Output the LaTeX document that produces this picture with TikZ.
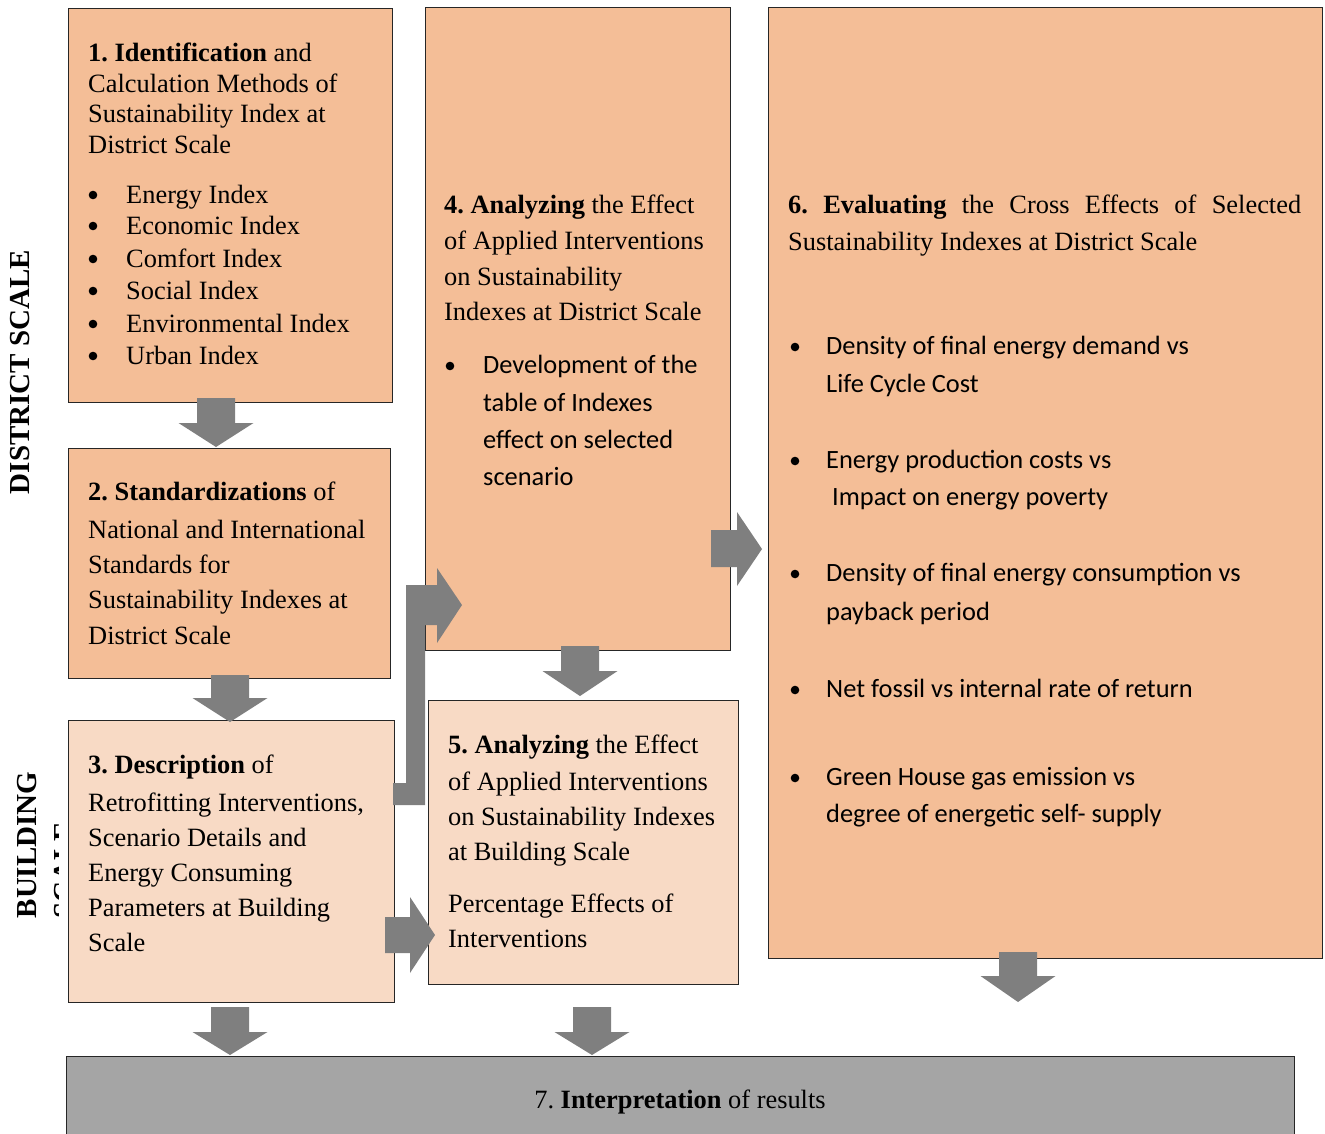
\documentclass[tikz,border=0pt]{standalone}
\usepackage{fontspec}
\setmainfont{Liberation Serif}
\newfontfamily\calfont{Carlito}
\definecolor{peach}{HTML}{F4BE97}
\definecolor{lpeach}{HTML}{F8DAC5}
\definecolor{agray}{HTML}{7F7F7F}
\definecolor{bgray}{HTML}{A5A5A5}
\begin{document}
\frenchspacing
\begin{tikzpicture}[x=1pt,y=-1pt,
  box/.style={draw=black!85, line width=0.9pt, inner sep=0, anchor=north west},
  t/.style={inner sep=0, anchor=base west, font=\fontsize{26.4}{30}\selectfont},
  c/.style={inner sep=0, anchor=base west, font=\calfont\fontsize{26.4}{30}\selectfont},
  bul/.style={fill=black, draw=none, circle, inner sep=0, minimum size=8.6pt},
  side/.style={inner sep=0, rotate=90, font=\bfseries\fontsize{29}{32}\selectfont},
  arr/.style={fill=agray, draw=none}]
\useasboundingbox (0,0) rectangle (1325,1133);
\clip (0,0) rectangle (1325,1133);

% side labels
\node[side] (ds) at (20,372) {DISTRICT SCALE};
\node[side] (bs) at (27,845) {BUILDING};
\begin{scope}
  \clip (53,820) rectangle (58,925);
  \node[side] (bs2) at (64,870) {SCALE};
\end{scope}

% boxes
\node[box, fill=peach, minimum width=324pt, minimum height=394pt] (b1) at (68,8) {};
\node[box, fill=peach, minimum width=322pt, minimum height=230pt] (b2) at (68,448) {};
\node[box, fill=lpeach, minimum width=326pt, minimum height=282pt] (b3) at (68,720) {};
\node[box, fill=peach, minimum width=305pt, minimum height=643pt] (b4) at (425,7) {};
\node[box, fill=lpeach, minimum width=310pt, minimum height=284pt] (b5) at (428,700) {};
\node[box, fill=peach, minimum width=554pt, minimum height=951pt] (b6) at (768,7) {};
\node[box, fill=bgray, minimum width=1228pt, minimum height=100pt] (b7) at (66,1056) {};

% box 1 text
\foreach \y/\s [count=\i] in {61/{\textbf{1. Identification} and},92/{Calculation Methods of},122/{Sustainability Index at},153/{District Scale}}
  \node[t, name=b1t\i] at (88,\y) {\s};
\foreach \y/\s [count=\i] in {203/{Energy Index},234/{Economic Index},267/{Comfort Index},299/{Social Index},332/{Environmental Index},364/{Urban Index}}{
  \node[bul, name=b1b\i] at (93,\y-8) {};
  \node[t, name=b1i\i] at (126,\y) {\s};
}

% box 2 text
\foreach \y/\s [count=\i] in {500/{\textbf{2. Standardizations} of},538/{National and International},573/{Standards for},608/{Sustainability Indexes at},644/{District Scale}}
  \node[t, name=b2t\i] at (88,\y) {\s};

% box 3 text
\foreach \y/\s [count=\i] in {773/{\textbf{3. Description} of},811/{Retrofitting Interventions,},846/{Scenario Details and},881/{Energy Consuming},916/{Parameters at Building},951/{Scale}}
  \node[t, name=b3t\i] at (88,\y) {\s};

% box 4 text
\foreach \y/\s [count=\i] in {213/{\textbf{4. Analyzing} the Effect},249/{of Applied Interventions},285/{on Sustainability},320/{Indexes at District Scale}}
  \node[t, name=b4t\i] at (444,\y) {\s};
\node[bul] (b4b) at (450,366) {};
\foreach \y/\s [count=\i] in {373/{Development of the},411/{table of Indexes},448/{effect on selected},485/{scenario}}
  \node[c, name=b4c\i] at (483,\y) {\s};

% box 5 text
\foreach \y/\s [count=\i] in {753/{\textbf{5. Analyzing} the Effect},790/{of Applied Interventions},825/{on Sustainability Indexes},860/{at Building Scale},912/{Percentage Effects of},947/{Interventions}}
  \node[t, name=b5t\i] at (448,\y) {\s};

% box 6 text
\node[t] (b6t1) at (788,213) {\makebox[513pt][s]{\textbf{6. Evaluating} the Cross Effects of Selected}};
\node[t] (b6t2) at (788,250) {Sustainability Indexes at District Scale};
\foreach \y [count=\i] in {354,468,581,697,785}
  \node[bul, name=b6b\i] at (795,\y-7) {};
\foreach \x/\y/\s [count=\i] in {826/354/{Density of final energy demand vs},826/392/{Life Cycle Cost},826/468/{Energy production costs vs},832/505/{Impact on energy poverty},826/581/{Density of final energy consumption vs},826/620/{payback period},826/697/{Net fossil vs internal rate of return},826/785/{Green House gas emission vs},826/822/{degree of energetic self- supply}}
  \node[c, name=b6c\i] at (\x,\y) {\s};

% box 7 text
\node[t, anchor=base] (b7t) at (680,1108) {7. \textbf{Interpretation} of results};

% down arrows
\newcommand\dnarrow[4]{% cx, top, shaft bottom, tip
  \fill[agray] (#1-19,#2) -- (#1+19,#2) -- (#1+19,#3) -- (#1+37.5,#3) -- (#1,#4) -- (#1-37.5,#3) -- (#1-19,#3) -- cycle;}
\dnarrow{216}{398}{423}{447}
\dnarrow{230}{675}{698}{722}
\dnarrow{580}{646}{671}{696}
\dnarrow{230}{1007}{1032}{1055}
\dnarrow{592}{1007}{1032}{1055}
\dnarrow{1018}{952}{976}{1002}

% right arrows
\fill[agray] (385,917) -- (410,917) -- (410,897) -- (435,935) -- (410,973) -- (410,953) -- (385,953) -- cycle;
\fill[agray] (711,530) -- (737,530) -- (737,512) -- (762,549) -- (737,586) -- (737,567) -- (711,567) -- cycle;

% bent arrow from 3 to 4
\fill[agray] (393,783) -- (406,783) -- (406,585) -- (437,585) -- (437,568) -- (462,605) -- (437,643) -- (437,625) -- (425,625) -- (425,805) -- (393,805) -- cycle;
\end{tikzpicture}
\end{document}
